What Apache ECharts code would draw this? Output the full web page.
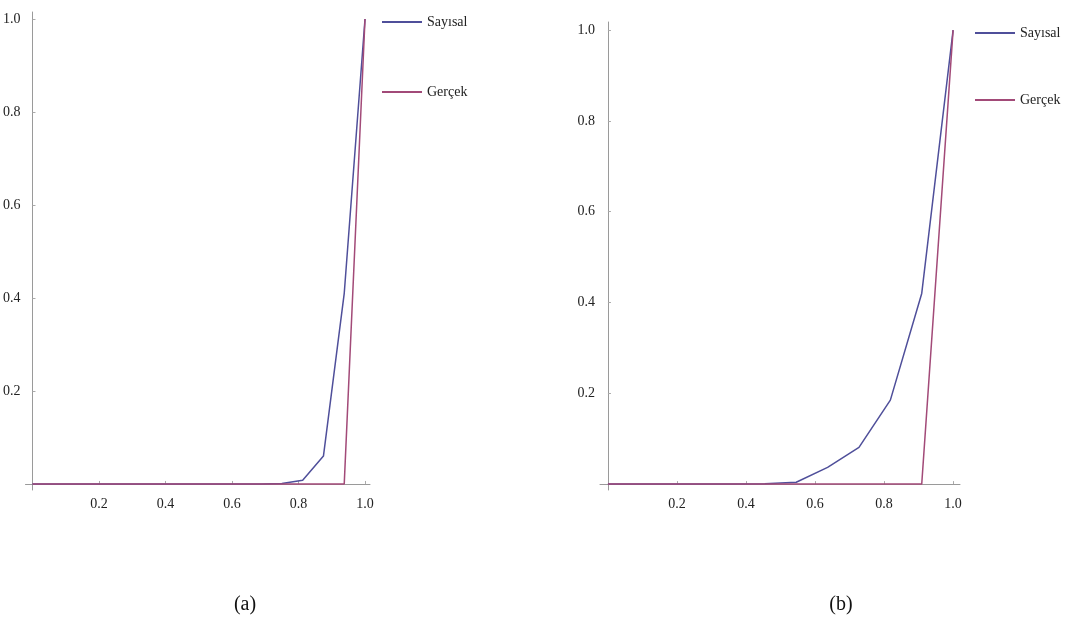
<!doctype html>
<html>
<head>
<meta charset="UTF-8">
<title></title>
<script src="https://cdn.jsdelivr.net/npm/echarts@6/dist/echarts.min.js"></script>
<style>
	html, body { margin: 0; padding: 0; background: #fff; }
	#main { width: 1070px; height: 620px; }
</style>
</head>
<body>
<div id="main"></div>
<script type="text/javascript">
	// (a) 16 adim
	var xA = [0, 0.0625, 0.125, 0.1875, 0.25, 0.3125, 0.375, 0.4375, 0.5, 0.5625, 0.625, 0.6875, 0.75, 0.8125, 0.875, 0.9375, 1];
	var sayisalA = [0, 0, 0, 0, 0, 0, 0, 0, 0, 0, 0, 0, 0.001, 0.008, 0.06, 0.41, 1];
	var gercekA = [0, 0, 0, 0, 0, 0, 0, 0, 0, 0, 0, 0, 0, 0, 0, 0, 1];
	// (b) 11 adim
	var xB = [0, 0.0909, 0.1818, 0.2727, 0.3636, 0.4545, 0.5455, 0.6364, 0.7273, 0.8182, 0.9091, 1];
	var sayisalB = [0, 0, 0, 0, 0, 0.0005, 0.004, 0.037, 0.081, 0.185, 0.42, 1];
	var gercekB = [0, 0, 0, 0, 0, 0, 0, 0, 0, 0, 0, 1];
	var ticks = [0.2, 0.4, 0.6, 0.8, 1.0];
	var names = ['Sayısal', 'Gerçek'];
	var captions = ['(a)', '(b)'];

	var colors = ['#4f4f9a', '#a24a78'];
	var font = 'Liberation Serif';

	function pairs(xs, ys) {
		var out = [];
		for (var i = 0; i < xs.length; i++) out.push([xs[i], ys[i]]);
		return out;
	}
	function axisOf(idx, min, max, margin) {
		return {
			type: 'value', gridIndex: idx, min: min, max: max,
			splitLine: { show: false },
			axisLine: { onZero: true, lineStyle: { color: '#9a9a9a', width: 1 } },
			axisTick: { show: true, inside: true, length: 3, customValues: ticks, lineStyle: { color: '#aaa' } },
			axisLabel: {
				customValues: ticks, margin: margin, color: '#222', fontFamily: font, fontSize: 14,
				formatter: function(v) { return v.toFixed(1); }
			}
		};
	}
	function lineSeries(name, idx, data, color) {
		return {
			name: name, type: 'line', xAxisIndex: idx, yAxisIndex: idx,
			data: data, showSymbol: false, animation: false,
			lineStyle: { color: color, width: 1.5 }, itemStyle: { color: color }
		};
	}
	function legendOf(left, top, gap) {
		return {
			orient: 'vertical', left: left, top: top, itemGap: gap,
			itemWidth: 40, itemHeight: 2, icon: 'rect',
			data: names,
			textStyle: { fontFamily: font, fontSize: 14, color: '#222' }
		};
	}

	var chart = echarts.init(document.getElementById('main'));
	var option = {
		backgroundColor: '#fff',
		animation: false,
		color: colors,
		grid: [
			{ left: 22, right: 700, top: 12, bottom: 130 },
			{ left: 600, right: 110, top: 22, bottom: 130 }
		],
		xAxis: [axisOf(0, -0.021, 1.015, 7), axisOf(1, -0.023, 1.02, 7)],
		yAxis: [axisOf(0, -0.013, 1.015, 5), axisOf(1, -0.013, 1.018, 5)],
		legend: [legendOf(377, 10, 56), legendOf(970, 21, 53)],
		title: [
			{ text: captions[0], left: 240, top: 590, textAlign: 'center', textStyle: { fontFamily: font, fontSize: 20, fontWeight: 'normal', color: '#111' } },
			{ text: captions[1], left: 836, top: 590, textAlign: 'center', textStyle: { fontFamily: font, fontSize: 20, fontWeight: 'normal', color: '#111' } }
		],
		series: [
			lineSeries(names[0], 0, pairs(xA, sayisalA), colors[0]),
			lineSeries(names[1], 0, pairs(xA, gercekA), colors[1]),
			lineSeries(names[0], 1, pairs(xB, sayisalB), colors[0]),
			lineSeries(names[1], 1, pairs(xB, gercekB), colors[1])
		]
	};
	chart.setOption(option);
</script>
</body>
</html>
